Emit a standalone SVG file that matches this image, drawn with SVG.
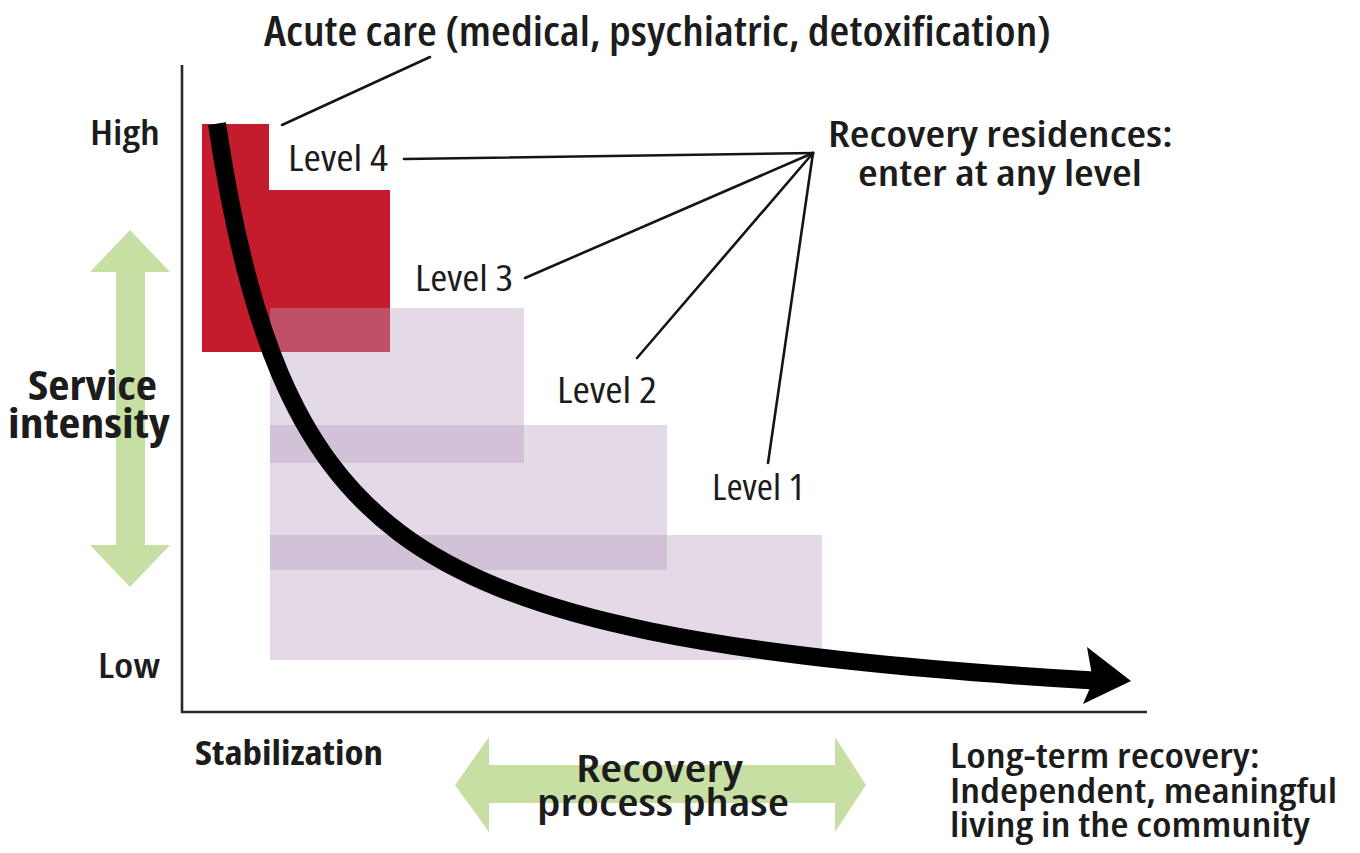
<svg xmlns="http://www.w3.org/2000/svg" width="1360" height="853" viewBox="0 0 1360 853">
  <style>
    .t { font-family: "Open Sans", "Noto Sans", "Liberation Sans", sans-serif; fill: #1c1c1c; font-stretch: 80%; }
    .reg { font-weight: 400; font-size: 37px; }
    .sb { font-weight: 600; }
    .bd { font-weight: 700; }
    .lead { stroke: #151515; stroke-width: 2.6; fill: none; stroke-linecap: round; }
    .axis { stroke: #2a2a2a; stroke-width: 2.6; fill: none; }
    .lvl { fill: rgb(185,160,195); fill-opacity: 0.4; }
    .green { fill: #c7dfa3; }
  </style>
  <rect width="1360" height="853" fill="#ffffff"/>

  <g id="green-arrows">
    <polygon class="green" points="130,230 170,272 145,272 145,545 170,545 130,587 90,545 116,545 116,272 90,272"/>
    <polygon class="green" points="455,785 489,737 489,765 835,765 835,737 866,785 835,832 835,803 489,803 489,832"/>
  </g>

  <g id="axes">
    <path class="axis" d="M182,65 L182,712 L1147,712"/>
  </g>

  <g id="acute-care-block">
    <path fill="#c41c2c" d="M202,124 L269,124 L269,190 L390,190 L390,352 L202,352 Z"/>
  </g>

  <g id="levels">
    <rect id="level-3-box" class="lvl" x="270" y="308" width="254" height="155"/>
    <rect id="level-2-box" class="lvl" x="270" y="425" width="397" height="145"/>
    <rect id="level-1-box" class="lvl" x="270" y="535" width="552" height="125"/>
  </g>

  <g id="connectors">
    <line class="lead" x1="282" y1="125" x2="430" y2="57"/>
    <line class="lead" x1="404" y1="159" x2="813" y2="153"/>
    <line class="lead" x1="525" y1="278" x2="813" y2="153"/>
    <line class="lead" x1="637" y1="358" x2="813" y2="153"/>
    <line class="lead" x1="768" y1="463" x2="813" y2="153"/>
  </g>

  <g id="recovery-curve">
    <path d="M217,123.7 C221.33,152.7 225.67,177.7 230,199.9 C236.67,234.1 243.33,261.9 250,286.1 C260,322.3 270,350.2 280,373.8 C296.67,413.1 313.33,440.5 330,462.9 C353.33,494.3 376.67,515.7 400,533.2 C433.33,558.2 466.67,574.6 500,588.05 C550,608.2 600,620.9 650,631.2 C716.67,644.9 783.33,653.7 850,660.9 C932.67,669.8 1015.33,675.9 1098,680.8" fill="none" stroke="#000" stroke-width="18"/>
    <polygon points="1087,647 1131,681 1083,704 1093,681" fill="#000"/>
  </g>

  <g id="labels">
    <text class="t sb" x="264" y="46" font-size="41" textLength="787" lengthAdjust="spacingAndGlyphs">Acute care (medical, psychiatric, detoxification)</text>
    <text class="t sb" x="90" y="145" font-size="35" textLength="70" lengthAdjust="spacingAndGlyphs">High</text>
    <text class="t sb" x="98" y="678" font-size="35" textLength="62" lengthAdjust="spacingAndGlyphs">Low</text>
    <text class="t reg" x="288" y="171" textLength="100" lengthAdjust="spacingAndGlyphs">Level 4</text>
    <text class="t reg" x="415" y="291" textLength="98" lengthAdjust="spacingAndGlyphs">Level 3</text>
    <text class="t reg" x="557" y="403" textLength="100" lengthAdjust="spacingAndGlyphs">Level 2</text>
    <text class="t reg" x="712" y="500" textLength="93" lengthAdjust="spacingAndGlyphs">Level 1</text>
    <text class="t sb" x="828" y="147" font-size="36" textLength="345" lengthAdjust="spacingAndGlyphs">Recovery residences:</text>
    <text class="t sb" x="858" y="186" font-size="36" textLength="284" lengthAdjust="spacingAndGlyphs">enter at any level</text>
    <text class="t bd" x="28" y="400" font-size="41" textLength="129" lengthAdjust="spacingAndGlyphs">Service</text>
    <text class="t bd" x="8" y="438" font-size="41" textLength="162" lengthAdjust="spacingAndGlyphs">intensity</text>
    <text class="t bd" x="195" y="765" font-size="33" textLength="188" lengthAdjust="spacingAndGlyphs">Stabilization</text>
    <text class="t sb" x="576" y="782" font-size="38" textLength="167" lengthAdjust="spacingAndGlyphs">Recovery</text>
    <text class="t sb" x="537" y="816" font-size="38" textLength="252" lengthAdjust="spacingAndGlyphs">process phase</text>
    <text class="t sb" x="950" y="768" font-size="34" textLength="310" lengthAdjust="spacingAndGlyphs">Long-term recovery:</text>
    <text class="t sb" x="950" y="803" font-size="34" textLength="387" lengthAdjust="spacingAndGlyphs">Independent, meaningful</text>
    <text class="t sb" x="950" y="837" font-size="34" textLength="360" lengthAdjust="spacingAndGlyphs">living in the community</text>
  </g>
</svg>
